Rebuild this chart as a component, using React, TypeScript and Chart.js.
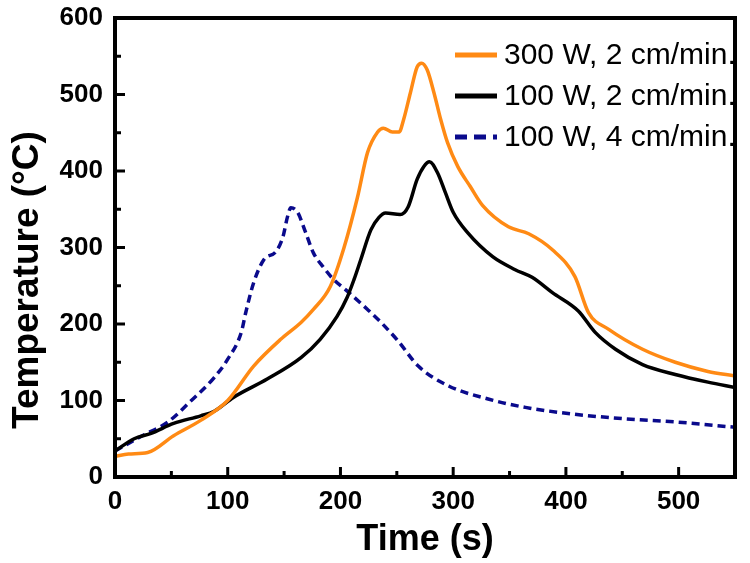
import { useEffect, useRef } from "react";
import { Chart, registerables } from "chart.js";

Chart.register(...registerables);

const seriesLabels = ["300 W, 2 cm/min.", "100 W, 2 cm/min.", "100 W, 4 cm/min."];
const seriesColors = ["#FF8A14", "#000000", "#0A0A8C"];

const t300 = [0, 12, 29, 52, 76, 100, 123, 147, 165, 176, 191, 203, 215, 224, 233, 238, 246, 252, 256, 262, 268, 272, 277, 283, 289, 295, 304, 315, 326, 349, 367, 388, 408, 420, 438, 468, 497, 526, 550];
const v300 = [27, 30, 32, 54, 74, 100, 145, 180, 202, 219, 249, 299, 365, 424, 451, 456, 451, 451, 467, 502, 536, 541, 532, 502, 467, 437, 406, 380, 355, 327, 318, 297, 262, 215, 193, 167, 150, 138, 132];

const t100a = [0, 17, 32, 52, 76, 88, 105, 135, 165, 182, 197, 206, 212, 218, 227, 234, 240, 253, 260, 268, 274, 279, 286, 293, 300, 313, 335, 355, 370, 388, 411, 426, 444, 468, 497, 526, 550];
const v100a = [34, 50, 57, 70, 80, 86, 104, 128, 156, 180, 210, 235, 258, 284, 323, 339, 345, 343, 353, 389, 406, 412, 398, 372, 346, 319, 288, 271, 261, 241, 217, 189, 167, 147, 134, 124, 117];

const t100b = [0, 23, 47, 67, 88, 100, 112, 116, 123, 132, 143, 149, 153, 156, 162, 169, 176, 185, 194, 206, 224, 236, 251, 269, 296, 331, 364, 408, 453, 497, 550];
const v100b = [34, 53, 72, 99, 130, 154, 189, 215, 254, 284, 295, 314, 340, 352, 346, 320, 293, 274, 258, 243, 219, 202, 178, 145, 119, 102, 91, 82, 76, 72, 65];

const xTicks = [0, 100, 200, 300, 400, 500];
const xMinorTicks = [50, 150, 250, 350, 450];
const yTicks = [0, 100, 200, 300, 400, 500, 600];
const yMinorTicks = [50, 150, 250, 350, 450, 550];

const xTitle = "Time (s)";
const yTitle = "Temperature (°C)";

const FONT = "'Liberation Sans', Arial, sans-serif";

const toPoints = (t: number[], v: number[]) => t.map((x, i) => ({ x, y: v[i] }));

const legendPlugin = {
  id: "customLegend",
  afterDatasetsDraw(chart: any) {
    const ctx = chart.ctx;
    const ca = chart.chartArea;
    ctx.save();
    ctx.beginPath();
    ctx.rect(ca.left, ca.top, ca.right - ca.left, ca.bottom - ca.top);
    ctx.clip();
    chart.data.datasets.forEach((ds: any, i: number) => {
      const y = 55 + i * 41;
      ctx.strokeStyle = ds.borderColor;
      ctx.lineWidth = 5;
      ctx.setLineDash(ds.borderDash && ds.borderDash.length ? [12, 7] : []);
      ctx.beginPath();
      ctx.moveTo(455, y);
      ctx.lineTo(497, y);
      ctx.stroke();
      ctx.setLineDash([]);
      ctx.fillStyle = "#000";
      ctx.font = `30px ${FONT}`;
      ctx.textAlign = "left";
      ctx.textBaseline = "middle";
      ctx.fillText(ds.label, 504, y + 1);
    });
    ctx.restore();
  },
};

const framePlugin = {
  id: "frame",
  afterDraw(chart: any) {
    const ctx = chart.ctx;
    const ca = chart.chartArea;
    const xs = chart.scales.x;
    const ys = chart.scales.y;
    ctx.save();
    ctx.strokeStyle = "#000";
    ctx.lineWidth = 4;
    ctx.strokeRect(ca.left, ca.top, ca.right - ca.left, ca.bottom - ca.top);
    ctx.lineWidth = 3;
    const tick = (x1: number, y1: number, x2: number, y2: number) => {
      ctx.beginPath();
      ctx.moveTo(x1, y1);
      ctx.lineTo(x2, y2);
      ctx.stroke();
    };
    xTicks.forEach((v) => {
      const p = xs.getPixelForValue(v);
      tick(p, ca.bottom, p, ca.bottom - 10);
    });
    xMinorTicks.forEach((v) => {
      const p = xs.getPixelForValue(v);
      tick(p, ca.bottom, p, ca.bottom - 6);
    });
    yTicks.forEach((v) => {
      const p = ys.getPixelForValue(v);
      tick(ca.left, p, ca.left + 10, p);
    });
    yMinorTicks.forEach((v) => {
      const p = ys.getPixelForValue(v);
      tick(ca.left, p, ca.left + 6, p);
    });
    // axis titles
    ctx.fillStyle = "#000";
    ctx.font = `bold 36px ${FONT}`;
    ctx.textAlign = "center";
    ctx.textBaseline = "middle";
    ctx.fillText(xTitle, (ca.left + ca.right) / 2, 540);
    ctx.font = `bold 37px ${FONT}`;
    ctx.translate(28, 280);
    ctx.rotate(-Math.PI / 2);
    ctx.fillText(yTitle, 0, 0);
    ctx.restore();
  },
};

export default function App() {
  const ref = useRef<HTMLCanvasElement | null>(null);
  useEffect(() => {
    if (!ref.current) return;
    const common = {
      showLine: true,
      pointRadius: 0,
      borderWidth: 3.5,
      fill: false,
      cubicInterpolationMode: "monotone" as const,
    };
    const chart = new Chart(ref.current, {
      type: "scatter",
      data: {
        datasets: [
          { ...common, label: seriesLabels[0], data: toPoints(t300, v300), borderColor: seriesColors[0], backgroundColor: seriesColors[0] },
          { ...common, label: seriesLabels[1], data: toPoints(t100a, v100a), borderColor: seriesColors[1], backgroundColor: seriesColors[1] },
          { ...common, label: seriesLabels[2], data: toPoints(t100b, v100b), borderColor: seriesColors[2], backgroundColor: seriesColors[2], borderDash: [8, 5] },
        ],
      },
      options: {
        responsive: false,
        animation: false,
        layout: { padding: { top: 18, right: 15, left: 0, bottom: 0 } },
        plugins: { legend: { display: false }, tooltip: { enabled: false } },
        scales: {
          x: {
            type: "linear",
            min: 0,
            max: 550,
            grid: { display: false, drawTicks: false },
            border: { display: false },
            afterBuildTicks: (s: any) => {
              s.ticks = xTicks.map((value) => ({ value }));
            },
            afterFit: (s: any) => {
              s.height = 86;
              s.paddingLeft = 0;
              s.paddingRight = 0;
            },
            ticks: { color: "#000", font: { family: FONT, size: 26, weight: "bold" }, padding: 9, maxRotation: 0 },
          },
          y: {
            type: "linear",
            min: 0,
            max: 600,
            grid: { display: false, drawTicks: false },
            border: { display: false },
            afterBuildTicks: (s: any) => {
              s.ticks = yTicks.map((value) => ({ value }));
            },
            afterFit: (s: any) => {
              s.width = 115;
              s.paddingTop = 0;
              s.paddingBottom = 0;
            },
            ticks: { color: "#000", font: { family: FONT, size: 26, weight: "bold" }, padding: 12 },
          },
        },
      },
      plugins: [legendPlugin, framePlugin],
    });
    return () => chart.destroy();
  }, []);
  return (
    <div style={{ position: "absolute", left: 0, top: 0, width: 750, height: 563, background: "#fff" }}>
      <canvas ref={ref} width={750} height={563} style={{ display: "block" }} />
    </div>
  );
}
